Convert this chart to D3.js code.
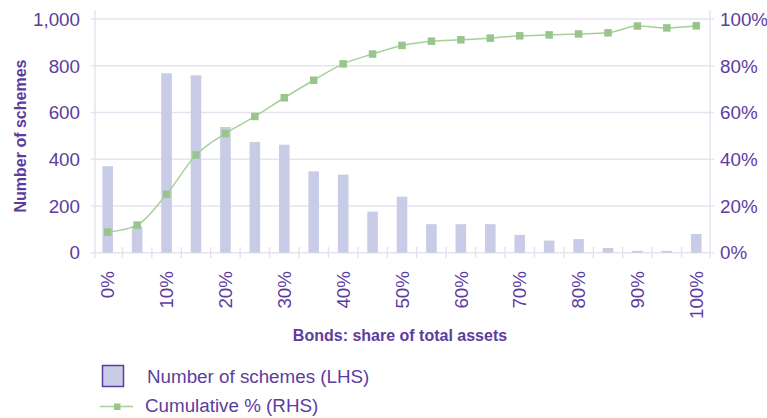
<!DOCTYPE html>
<html>
<head>
<meta charset="utf-8">
<script src="https://cdn.jsdelivr.net/npm/d3@7"></script>
<style>
  html, body { margin: 0; padding: 0; background: #fff; }
  svg { display: block; font-family: "Liberation Sans", Arial, Helvetica, sans-serif; }
</style>
</head>
<body>
<svg id="chart" width="767" height="418"></svg>
<script>
// ---- data ----
const categories = ["0%","5%","10%","15%","20%","25%","30%","35%","40%","45%","50%",
                    "55%","60%","65%","70%","75%","80%","85%","90%","95%","100%"];
const schemes = [370, 112, 768, 759, 538, 474, 462, 348, 334, 176, 240,
                 122, 122, 122, 76, 52, 58, 20, 8, 8, 80];
const cumulative = [0.088, 0.118, 0.250, 0.418, 0.510, 0.583, 0.663, 0.738, 0.808, 0.850, 0.887,
                    0.905, 0.911, 0.918, 0.928, 0.932, 0.936, 0.941, 0.970, 0.962, 0.971];
const xTickLabels = ["0%","10%","20%","30%","40%","50%","60%","70%","80%","90%","100%"];
const leftTicks = [0, 200, 400, 600, 800, 1000];
const rightTicks = [0, 0.2, 0.4, 0.6, 0.8, 1.0];
const seriesNames = ["Number of schemes (LHS)", "Cumulative % (RHS)"];

// ---- styles ----
const textColor = "#5c3d9e";
const gridColor = "#e6e3f0";
const barColor = "#c8cce6";
const lineColor = "#a6d09a";
const markerColor = "#99c58d";
const tickFont = 18.8;

const svg = d3.select("#chart");
const plotLeft = 95, plotRight = 710, plotTop = 19, plotBottom = 252.7;

const x = d3.scaleBand().domain(categories).range([93, 711]).paddingInner(0.64).paddingOuter(0.32);
const yL = d3.scaleLinear().domain([0, 1000]).range([plotBottom, plotTop]);
const yR = d3.scaleLinear().domain([0, 1]).range([plotBottom, plotTop]);

// gridlines
svg.append("g").selectAll("line").data(leftTicks).join("line")
  .attr("x1", 91).attr("x2", 714)
  .attr("y1", d => yL(d)).attr("y2", d => yL(d))
  .attr("stroke", gridColor).attr("stroke-width", 1.5);

// vertical axis lines
[plotLeft, plotRight].forEach(px => {
  svg.append("line").attr("x1", px).attr("x2", px).attr("y1", 10).attr("y2", 258)
    .attr("stroke", gridColor).attr("stroke-width", 1.5);
});

// x ticks at band boundaries
const step = x.step();
const boundaries = categories.slice(1).map(c => x(c) + x.bandwidth() / 2 - step / 2);
svg.append("g").selectAll("line").data(boundaries).join("line")
  .attr("x1", d => d).attr("x2", d => d).attr("y1", 247).attr("y2", 258)
  .attr("stroke", gridColor).attr("stroke-width", 1.5);

// bars
svg.append("g").selectAll("rect").data(schemes).join("rect")
  .attr("x", (d, i) => x(categories[i]))
  .attr("width", x.bandwidth())
  .attr("y", d => yL(d))
  .attr("height", d => yL(0) - yL(d))
  .attr("fill", barColor);

// cumulative line
const line = d3.line()
  .x((d, i) => x(categories[i]) + x.bandwidth() / 2)
  .y(d => yR(d))
  .curve(d3.curveMonotoneX);
svg.append("path").datum(cumulative).attr("d", line)
  .attr("fill", "none").attr("stroke", lineColor).attr("stroke-width", 1.5);

const ms = 7.5;
svg.append("g").selectAll("rect").data(cumulative).join("rect")
  .attr("x", (d, i) => x(categories[i]) + x.bandwidth() / 2 - ms / 2)
  .attr("y", d => yR(d) - ms / 2)
  .attr("width", ms).attr("height", ms)
  .attr("fill", markerColor);

// left axis labels
const fmt = d3.format(",");
svg.append("g").selectAll("text").data(leftTicks).join("text")
  .attr("x", 80).attr("y", d => yL(d)).attr("dy", "0.36em")
  .attr("text-anchor", "end").attr("font-size", tickFont).attr("fill", textColor)
  .text(d => fmt(d));

// right axis labels
svg.append("g").selectAll("text").data(rightTicks).join("text")
  .attr("x", 720).attr("y", d => yR(d)).attr("dy", "0.36em")
  .attr("text-anchor", "start").attr("font-size", tickFont).attr("fill", textColor)
  .text(d => d3.format(".0%")(d));

// x labels (rotated)
svg.append("g").selectAll("text").data(xTickLabels).join("text")
  .attr("transform", d => `translate(${x(d) + x.bandwidth() / 2},271) rotate(-90)`)
  .attr("dy", "0.36em")
  .attr("text-anchor", "end").attr("font-size", tickFont).attr("fill", textColor)
  .text(d => d);

// axis titles
svg.append("text")
  .attr("transform", "translate(20,136) rotate(-90)")
  .attr("dy", "0.36em")
  .attr("text-anchor", "middle").attr("font-size", 16).attr("font-weight", "bold")
  .attr("fill", textColor).text("Number of schemes");

svg.append("text")
  .attr("x", 400).attr("y", 335).attr("dy", "0.36em")
  .attr("text-anchor", "middle").attr("font-size", 16).attr("font-weight", "bold")
  .attr("fill", textColor).text("Bonds: share of total assets");

// legend
svg.append("rect").attr("x", 102.5).attr("y", 365.5).attr("width", 21).attr("height", 21)
  .attr("fill", barColor).attr("stroke", textColor).attr("stroke-width", 1.5);
svg.append("text").attr("x", 147).attr("y", 376).attr("dy", "0.36em")
  .attr("font-size", tickFont).attr("fill", textColor).text(seriesNames[0]);

svg.append("line").attr("x1", 100).attr("x2", 133).attr("y1", 406.5).attr("y2", 406.5)
  .attr("stroke", lineColor).attr("stroke-width", 1.5);
svg.append("rect").attr("x", 114).attr("y", 403.5).attr("width", 6.5).attr("height", 6.5)
  .attr("fill", markerColor);
svg.append("text").attr("x", 145).attr("y", 405.5).attr("dy", "0.36em")
  .attr("font-size", tickFont).attr("fill", textColor).text(seriesNames[1]);
</script>
</body>
</html>
